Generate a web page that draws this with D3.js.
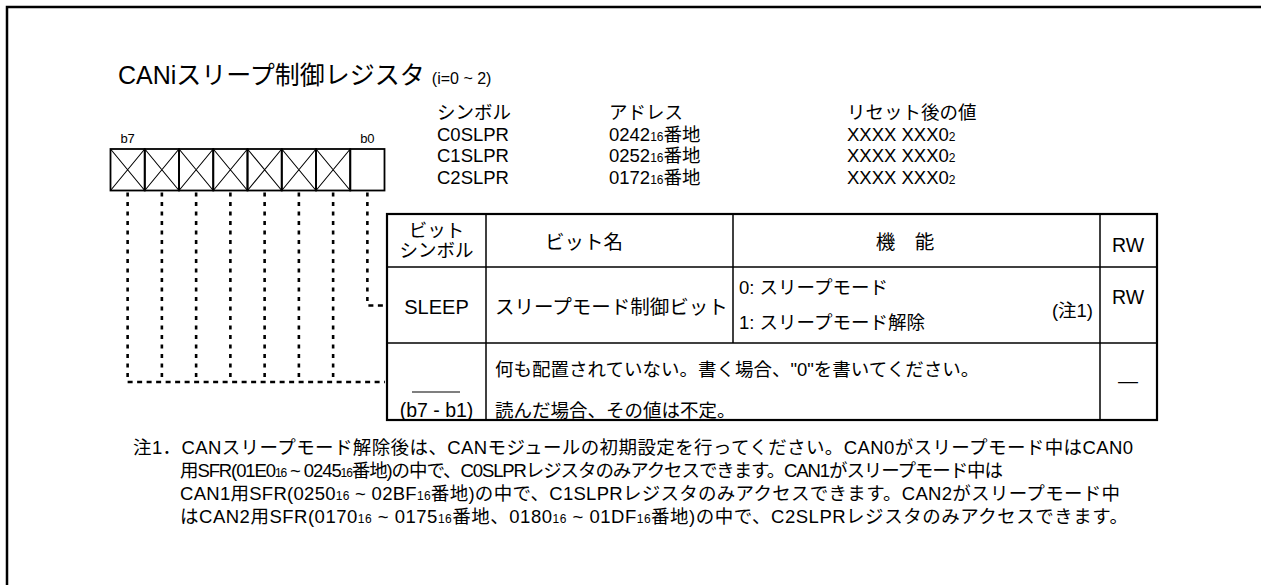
<!DOCTYPE html>
<html><head><meta charset="utf-8">
<script src="https://cdn.jsdelivr.net/npm/d3@7"></script>
<style>
html,body{margin:0;padding:0;background:#fff;}
text{font-family:"Liberation Sans","Noto Sans CJK JP",sans-serif;fill:#000;}
</style></head>
<body>
<svg id="c" width="1261" height="585"></svg>
<script>
// ---- data ----
const titleMain = "CANiスリープ制御レジスタ";
const titleSub = "(i=0 ~ 2)";
const infoHeaders = ["シンボル", "アドレス", "リセット後の値"];
const symbols = ["C0SLPR", "C1SLPR", "C2SLPR"];
const addresses = ["0242{16}番地", "0252{16}番地", "0172{16}番地"];
const resetValues = ["XXXX XXX0{2}", "XXXX XXX0{2}", "XXXX XXX0{2}"];
const bits = [7, 6, 5, 4, 3, 2, 1, 0];
const unusedBits = [7, 6, 5, 4, 3, 2, 1];
const usedBits = [0];
const tableHeaders = [["ビット", "シンボル"], ["ビット名"], ["機　能"], ["RW"]];
const sleepRow = ["SLEEP", "スリープモード制御ビット", ["0: スリープモード", "1: スリープモード解除"], "(注1)", "RW"];
const reservedRow = ["(b7 - b1)", ["何も配置されていない。書く場合、\"0\"を書いてください。", "読んだ場合、その値は不定。"], "—"];
const notes = [
  "注1．CANスリープモード解除後は、CANモジュールの初期設定を行ってください。CAN0がスリープモード中はCAN0",
  "用SFR(01E0{16} ~ 0245{16}番地)の中で、C0SLPRレジスタのみアクセスできます。CAN1がスリープモード中は",
  "CAN1用SFR(0250{16} ~ 02BF{16}番地)の中で、C1SLPRレジスタのみアクセスできます。CAN2がスリープモード中",
  "はCAN2用SFR(0170{16} ~ 0175{16}番地、0180{16} ~ 01DF{16}番地)の中で、C2SLPRレジスタのみアクセスできます。"
];

// ---- drawing ----
const svg = d3.select("#c");

function richText(sel, str, size, subSize) {
  const parts = str.split(/\{(\d+)\}/);
  parts.forEach((p, i) => {
    if (!p) return;
    sel.append("tspan").attr("font-size", i % 2 ? subSize : size).text(p);
  });
  return sel;
}
function txt(x, y, s, size, anchor) {
  return svg.append("text").attr("x", x).attr("y", y).attr("font-size", size)
    .attr("text-anchor", anchor || "start").text(s);
}

// outer frame
svg.append("path").attr("d", "M7,585V7H1261").attr("fill", "none").attr("stroke", "#000").attr("stroke-width", 2.5);

// title
const tMain = txt(118, 84, titleMain, 25);
const tw = tMain.node().getComputedTextLength();
txt(118 + tw + 7, 84, titleSub, 16);

// info table
const infoX = d3.scaleOrdinal().domain([0, 1, 2]).range([437, 609, 847]);
const infoY = d3.scalePoint().domain([-1, 0, 1, 2]).range([119, 184]);
const infoFs = 18.5;
infoHeaders.forEach((h, i) => txt(infoX(i), infoY(-1), h, infoFs));
symbols.forEach((s, r) => {
  txt(infoX(0), infoY(r), s, infoFs);
  richText(svg.append("text").attr("x", infoX(1)).attr("y", infoY(r)), addresses[r], infoFs, 12);
  richText(svg.append("text").attr("x", infoX(2)).attr("y", infoY(r)), resetValues[r], infoFs, 12);
});

// bit boxes
const bx = d3.scaleBand().domain(bits).range([110.5, 384.5]);
const boxTop = 149, boxBot = 190.5;
const g = svg.append("g");
bits.forEach(b => {
  const x0 = bx(b), x1 = x0 + bx.bandwidth();
  g.append("rect").attr("x", x0).attr("y", boxTop).attr("width", bx.bandwidth()).attr("height", boxBot - boxTop)
    .attr("fill", "none").attr("stroke", "#000").attr("stroke-width", 1.8);
  if (unusedBits.includes(b)) {
    g.append("path").attr("d", `M${x0},${boxTop}L${x1},${boxBot}M${x1},${boxTop}L${x0},${boxBot}`)
      .attr("stroke", "#000").attr("stroke-width", 1.1).attr("fill", "none");
  }
});
txt(bx(7) + bx.bandwidth() / 2, 143, "b7", 13, "middle");
txt(bx(0) + bx.bandwidth() / 2, 143, "b0", 13, "middle");

// table geometry
const colEdges = [387, 486, 733, 1100, 1157];
const rowEdges = [214, 267, 343, 420];
const cx = i => (colEdges[i] + colEdges[i + 1]) / 2;

// dotted leader lines
function dotted(d, dash) {
  svg.append("path").attr("d", d).attr("stroke", "#000").attr("stroke-width", 2.6)
    .attr("fill", "none").attr("stroke-dasharray", dash);
}
const cc = b => bx(b) + bx.bandwidth() / 2;
usedBits.forEach(b => {
  dotted(`M${cc(b)},${boxBot + 2}V${305.5}`, "4,5.5");
  dotted(`M${cc(b) + 1},${305.5}H${colEdges[0]}`, "5,4.5");
});
unusedBits.forEach(b => dotted(`M${cc(b)},${boxBot + 2}V${380}`, "4,5.5"));
dotted(`M${cc(7)},${382}H${colEdges[0] - 2}`, "5,4.5");

// table lines
const tg = svg.append("g").attr("stroke", "#000").attr("fill", "none");
tg.append("rect").attr("x", colEdges[0]).attr("y", rowEdges[0]).attr("width", colEdges[4] - colEdges[0]).attr("height", rowEdges[3] - rowEdges[0]).attr("stroke-width", 2.2);
[1, 2].forEach(i => tg.append("line").attr("x1", colEdges[0]).attr("x2", colEdges[4]).attr("y1", rowEdges[i]).attr("y2", rowEdges[i]).attr("stroke-width", 1.5));
tg.append("line").attr("x1", colEdges[1]).attr("x2", colEdges[1]).attr("y1", rowEdges[0]).attr("y2", rowEdges[3]).attr("stroke-width", 1.5);
tg.append("line").attr("x1", colEdges[2]).attr("x2", colEdges[2]).attr("y1", rowEdges[0]).attr("y2", rowEdges[2]).attr("stroke-width", 1.5);
tg.append("line").attr("x1", colEdges[3]).attr("x2", colEdges[3]).attr("y1", rowEdges[0]).attr("y2", rowEdges[3]).attr("stroke-width", 1.5);

const fs = 19.5;
// header
txt(cx(0), 237, tableHeaders[0][0], 18.5, "middle");
txt(cx(0), 257, tableHeaders[0][1], 18.5, "middle");
txt(584, 249, tableHeaders[1][0], fs, "middle");
txt(905, 249, tableHeaders[2][0], fs, "middle");
txt(1128, 252, tableHeaders[3][0], fs, "middle");

// sleep row
txt(cx(0), 314, sleepRow[0], 20, "middle");
txt(495, 314, sleepRow[1], fs);
txt(739, 294, sleepRow[2][0], 18.5);
txt(739, 329, sleepRow[2][1], 18.5);
txt(1093, 317, sleepRow[3], 18.5, "end");
txt(1128, 304, sleepRow[4], fs, "middle");

// reserved row
svg.append("line").attr("x1", 412).attr("x2", 460).attr("y1", 392).attr("y2", 392).attr("stroke", "#000").attr("stroke-width", 1.2);
txt(cx(0), 417, reservedRow[0], 19.5, "middle");
txt(495, 376, reservedRow[1][0], 18.5);
txt(495, 417, reservedRow[1][1], 18.5);
txt(1128, 388, reservedRow[2], 20, "middle");

// notes
const noteFs = 18.5;
const noteLen = [1000, 823, 940, 948];
const noteY = d3.scalePoint().domain(d3.range(notes.length)).range([454, 523]);
notes.forEach((n, i) => richText(svg.append("text").attr("x", i === 0 ? 133 : 180).attr("y", noteY(i))
  .attr("textLength", noteLen[i]).attr("lengthAdjust", "spacing"), n, noteFs, 12));
</script>
</body></html>
